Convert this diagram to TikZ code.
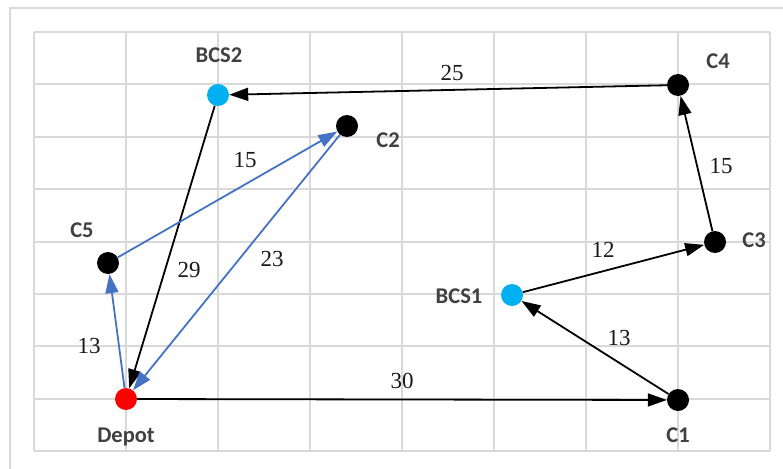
\documentclass[tikz,border=0pt]{standalone}
\usepackage{fontspec}
\setmainfont{Liberation Serif}
\newfontfamily\lblfont{Carlito}
\usetikzlibrary{arrows.meta}
\definecolor{gridgray}{HTML}{D9D9D9}
\definecolor{namegray}{HTML}{404040}
\definecolor{edgeblue}{HTML}{4472C4}
\definecolor{bcsblue}{HTML}{00B0F0}
\definecolor{depotred}{HTML}{FF0000}
\begin{document}
\begin{tikzpicture}[x=1pt,y=-1pt,
  stop/.style={circle, minimum size=22pt, inner sep=0pt, fill=black},
  nm/.style={font=\lblfont\bfseries\fontsize{22.5}{22.5}\selectfont, text=namegray, inner sep=0pt, anchor=base},
  wt/.style={font=\fontsize{23}{23}\selectfont, text=black!90, inner sep=0pt, anchor=base},
  gridline/.style={draw=gridgray, line width=2pt},
  blk/.style={draw=black, line width=1.8pt, -{Triangle[length=19pt,width=13pt]}},
  blu/.style={draw=edgeblue, line width=1.8pt, -{Triangle[length=19pt,width=13pt]}},
]
\useasboundingbox (0,0) rectangle (783,468);
\clip (0,0) rectangle (783,468);
\fill[white] (0,0) rectangle (783,468);
\draw[gridline] (10,8) rectangle (800,490);
\foreach \i in {0,...,8} { \draw[gridline] ({34+92*\i},32) -- ({34+92*\i},451.2); }
\foreach \j in {0,...,8} { \draw[gridline] (34,{32+52.4*\j}) -- (770,{32+52.4*\j}); }

% stops
\node[stop, fill=bcsblue] (BCS2) at (218,95) {};
\node[stop] (C2) at (347,126) {};
\node[stop] (C5) at (108,263) {};
\node[stop, fill=depotred] (Dep) at (126,399) {};
\node[stop] (C4) at (678,85) {};
\node[stop] (C3) at (715,242) {};
\node[stop, fill=bcsblue] (BCS1) at (512,295) {};
\node[stop] (C1) at (678,400) {};

% names
\node[nm] (lBCS2) at (219,62.7) {BCS2};
\node[nm] (lC2) at (388,147) {C2};
\node[nm] (lC5) at (82,237) {C5};
\node[nm] (lDep) at (126,442) {Depot};
\node[nm] (lC4) at (718,69) {C4};
\node[nm] (lC3) at (754,247) {C3};
\node[nm] (lBCS1) at (459,303) {BCS1};
\node[nm] (lC1) at (678,442) {C1};

% connectors
\draw[blk] (C4) -- (BCS2);
\draw[blk] (BCS2) -- (Dep);
\draw[blu] (C5) -- (C2);
\draw[blu] (C2) -- (Dep);
\draw[blu] (Dep) -- (C5);
\draw[blk] (Dep) -- (C1);
\draw[blk] (C1) -- (BCS1);
\draw[blk] (BCS1) -- (C3);
\draw[blk] (C3) -- (C4);

% weights
\node[wt] (w25) at (452,81) {25};
\node[wt] (w15a) at (245,167) {15};
\node[wt] (w29) at (189,277) {29};
\node[wt] (w23) at (272,266) {23};
\node[wt] (w13a) at (89,353) {13};
\node[wt] (w30) at (402,388) {30};
\node[wt] (w13b) at (619,345) {13};
\node[wt] (w12) at (603,257) {12};
\node[wt] (w15b) at (721,173) {15};
\end{tikzpicture}
\end{document}
